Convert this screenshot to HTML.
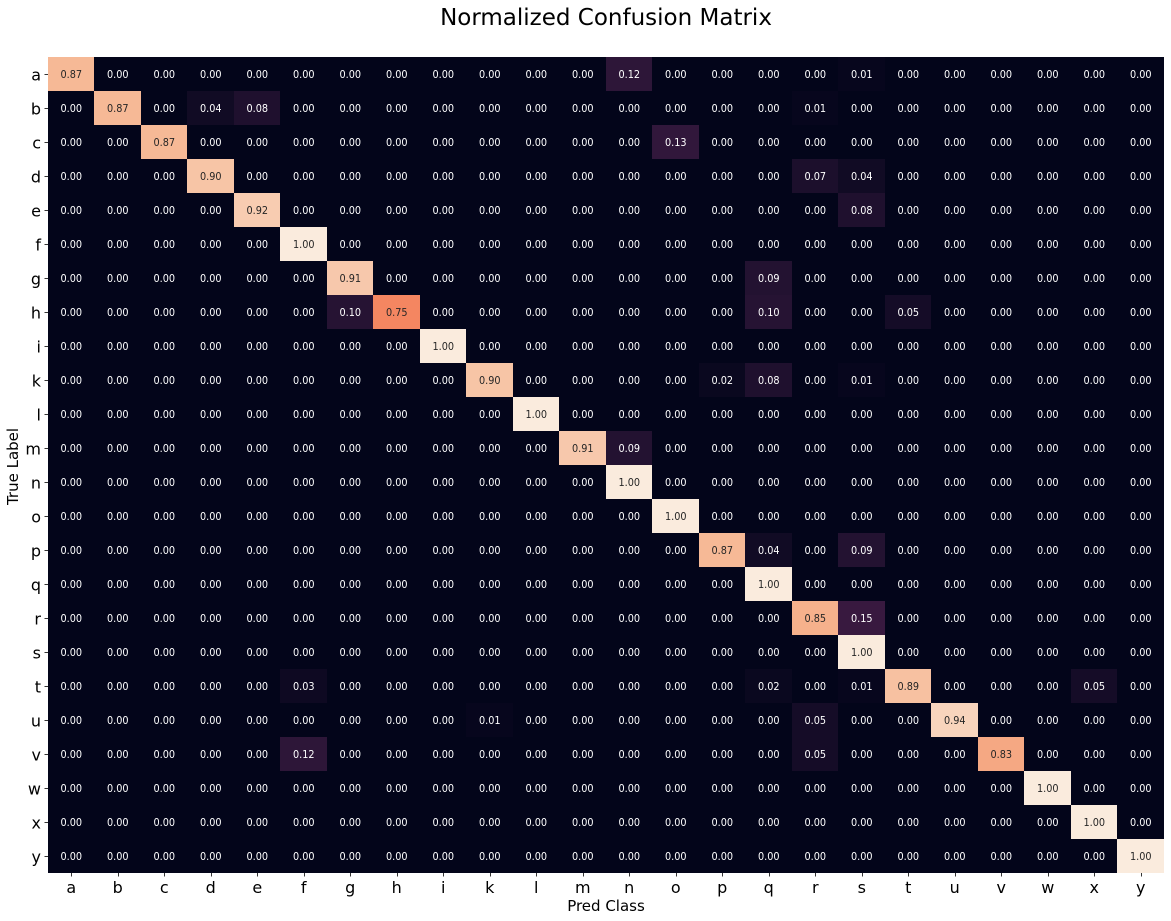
<!DOCTYPE html>
<html lang="en">
<head>
<meta charset="utf-8">
<title>Normalized Confusion Matrix</title>
<style>
html,body{margin:0;padding:0;background:#fff;width:1171px;height:921px;overflow:hidden}
svg{display:block}
text{font-family:"DejaVu Sans","Liberation Sans",sans-serif;fill:#000}
</style>
</head>
<body>
<svg id="chart" xmlns="http://www.w3.org/2000/svg" width="1171" height="921" viewBox="0 0 1171 921">
  <text x="606" y="25" text-anchor="middle" font-size="23">Normalized Confusion Matrix</text>
  <text x="606" y="911" text-anchor="middle" font-size="15">Pred Class</text>
  <text transform="translate(18,466.5) rotate(-90)" text-anchor="middle" font-size="15">True Label</text>
  <g id="cells"></g>
  <g id="annotations"></g>
  <g id="x-axis"></g>
  <g id="y-axis"></g>
</svg>
<script>
const classLabels = ['a','b','c','d','e','f','g','h','i','k','l','m','n','o','p','q','r','s','t','u','v','w','x','y'];
const matrixValues = [
  [.87,0,0,0,0,0,0,0,0,0,0,0,.12,0,0,0,0,.01,0,0,0,0,0,0],
  [0,.87,0,.04,.08,0,0,0,0,0,0,0,0,0,0,0,.01,0,0,0,0,0,0,0],
  [0,0,.87,0,0,0,0,0,0,0,0,0,0,.13,0,0,0,0,0,0,0,0,0,0],
  [0,0,0,.90,0,0,0,0,0,0,0,0,0,0,0,0,.07,.04,0,0,0,0,0,0],
  [0,0,0,0,.92,0,0,0,0,0,0,0,0,0,0,0,0,.08,0,0,0,0,0,0],
  [0,0,0,0,0,1,0,0,0,0,0,0,0,0,0,0,0,0,0,0,0,0,0,0],
  [0,0,0,0,0,0,.91,0,0,0,0,0,0,0,0,.09,0,0,0,0,0,0,0,0],
  [0,0,0,0,0,0,.10,.75,0,0,0,0,0,0,0,.10,0,0,.05,0,0,0,0,0],
  [0,0,0,0,0,0,0,0,1,0,0,0,0,0,0,0,0,0,0,0,0,0,0,0],
  [0,0,0,0,0,0,0,0,0,.90,0,0,0,0,.02,.08,0,.01,0,0,0,0,0,0],
  [0,0,0,0,0,0,0,0,0,0,1,0,0,0,0,0,0,0,0,0,0,0,0,0],
  [0,0,0,0,0,0,0,0,0,0,0,.91,.09,0,0,0,0,0,0,0,0,0,0,0],
  [0,0,0,0,0,0,0,0,0,0,0,0,1,0,0,0,0,0,0,0,0,0,0,0],
  [0,0,0,0,0,0,0,0,0,0,0,0,0,1,0,0,0,0,0,0,0,0,0,0],
  [0,0,0,0,0,0,0,0,0,0,0,0,0,0,.87,.04,0,.09,0,0,0,0,0,0],
  [0,0,0,0,0,0,0,0,0,0,0,0,0,0,0,1,0,0,0,0,0,0,0,0],
  [0,0,0,0,0,0,0,0,0,0,0,0,0,0,0,0,.85,.15,0,0,0,0,0,0],
  [0,0,0,0,0,0,0,0,0,0,0,0,0,0,0,0,0,1,0,0,0,0,0,0],
  [0,0,0,0,0,.03,0,0,0,0,0,0,0,0,0,.02,0,.01,.89,0,0,0,.05,0],
  [0,0,0,0,0,0,0,0,0,.01,0,0,0,0,0,0,.05,0,0,.94,0,0,0,0],
  [0,0,0,0,0,.12,0,0,0,0,0,0,0,0,0,0,.05,0,0,0,.83,0,0,0],
  [0,0,0,0,0,0,0,0,0,0,0,0,0,0,0,0,0,0,0,0,0,1,0,0],
  [0,0,0,0,0,0,0,0,0,0,0,0,0,0,0,0,0,0,0,0,0,0,1,0],
  [0,0,0,0,0,0,0,0,0,0,0,0,0,0,0,0,0,0,0,0,0,0,0,1]
];
const rocketStops = ['#03051a','#35193e','#701f57','#ad1759','#e13342','#f37651','#f6b48f','#faebdd'];

const NS = 'http://www.w3.org/2000/svg';
const plotLeft = 48, plotRight = 1164, plotTop = 57, plotBottom = 873;

function xEdge(i){ return Math.floor(plotLeft + i * (plotRight - plotLeft) / classLabels.length); }
function yEdge(i){ return Math.floor(plotTop + i * (plotBottom - plotTop) / classLabels.length); }
function xCenter(i){ return plotLeft + (i + 0.5) * (plotRight - plotLeft) / classLabels.length; }
function yCenter(i){ return plotTop + (i + 0.5) * (plotBottom - plotTop) / classLabels.length; }

function hexToRgb(h){ return [1,3,5].map(function(p){ return parseInt(h.substr(p,2),16); }); }
function colorFor(v){
  const t = Math.max(0, Math.min(1, v)) * (rocketStops.length - 1);
  const k = Math.min(Math.floor(t), rocketStops.length - 2);
  const a = hexToRgb(rocketStops[k]), b = hexToRgb(rocketStops[k + 1]);
  const f = t - k;
  return 'rgb(' + a.map(function(c, n){ return Math.round(c + (b[n] - c) * f); }).join(',') + ')';
}
function make(tag, attrs, parent){
  const el = document.createElementNS(NS, tag);
  Object.keys(attrs).forEach(function(k){ el.setAttribute(k, attrs[k]); });
  parent.appendChild(el);
  return el;
}

const cellsG = document.getElementById('cells');
const annG = document.getElementById('annotations');
const xG = document.getElementById('x-axis');
const yG = document.getElementById('y-axis');

matrixValues.forEach(function(row, r){
  row.forEach(function(v, c){
    const rect = make('rect', {
      x: xEdge(c), y: yEdge(r),
      width: xEdge(c + 1) - xEdge(c), height: yEdge(r + 1) - yEdge(r),
      fill: colorFor(v), 'shape-rendering': 'crispEdges'
    }, cellsG);
    
    
    const t = make('text', {
      x: xCenter(c), y: yCenter(r) + 4,
      'text-anchor': 'middle', 'font-size': 11,
      textLength: 21.6, lengthAdjust: 'spacingAndGlyphs',
      style: 'fill:' + (v > 0.4 ? '#262626' : '#ffffff')
    }, annG);
    t.textContent = v.toFixed(2);
    
    
  });
});

classLabels.forEach(function(label, i){
  const xTick = make('line', {
    x1: Math.round(xCenter(i)) + 0.5, x2: Math.round(xCenter(i)) + 0.5, y1: plotBottom, y2: plotBottom + 3.5,
    stroke: '#000', 'stroke-width': 0.8
  }, xG);
  
  
  const xText = make('text', {
    x: xCenter(i), y: 893, 'text-anchor': 'middle', 'font-size': 16
  }, xG);
  xText.textContent = label;
  
  

  const yTick = make('line', {
    x1: plotLeft - 3.5, x2: plotLeft, y1: Math.round(yCenter(i)) + 0.5, y2: Math.round(yCenter(i)) + 0.5,
    stroke: '#000', 'stroke-width': 0.8
  }, yG);
  
  
  const yText = make('text', {
    x: 41, y: yCenter(i) + 6.5, 'text-anchor': 'end', 'font-size': 16
  }, yG);
  yText.textContent = label;
  
  
});
</script>
</body>
</html>
